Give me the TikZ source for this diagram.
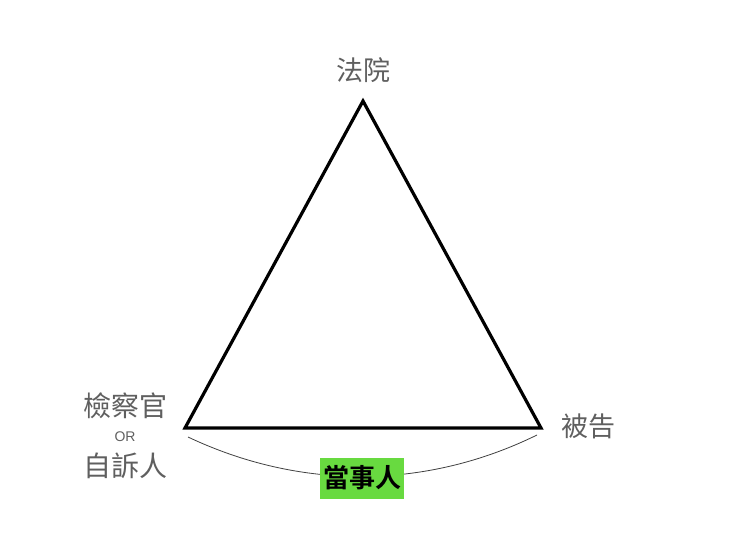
\documentclass[tikz,border=0pt]{standalone}
\usepackage{fontspec}
\setmainfont{Liberation Sans}
\newfontfamily\cjk{Noto Sans CJK TC}
\newfontfamily\cjkb{Noto Sans CJK TC Bold}
\definecolor{txtgray}{RGB}{95,95,95}
\definecolor{tagreen}{RGB}{104,218,64}
\begin{document}
\begin{tikzpicture}[x=1pt,y=-1pt,
  lbl/.style={text=txtgray,font=\cjk\fontsize{27}{30}\selectfont,inner sep=0pt},
  tri/.style={draw=black,line width=3.2pt,line join=miter},
  arcline/.style={draw=black!75,line width=0.8pt}]
\useasboundingbox (0,0) rectangle (740,555);
\coordinate (top) at (363,101);
\coordinate (bl) at (185,428);
\coordinate (br) at (541,428);
\draw[tri] (top) -- (bl) -- (br) -- cycle;
\node[lbl] (court) at (363,70) {法院};
\node[lbl,font=\cjk\fontsize{28}{30}\selectfont] (pros) at (125,406) {檢察官};
\node[text=txtgray,font=\fontsize{14}{16}\selectfont,inner sep=0pt] (or) at (125,437) {OR};
\node[lbl,font=\cjk\fontsize{28}{30}\selectfont] (priv) at (125,466) {自訴人};
\node[lbl] (def) at (588,426) {被告};
\coordinate (al) at (188,437);
\coordinate (ar) at (537,435);
\draw[arcline] (al) .. controls (300,490) and (425,490) .. (ar);
\node[fill=tagreen,minimum width=84pt,minimum height=41pt,inner sep=0pt,
  font=\cjkb\fontsize{26}{28}\selectfont,text=black] (party) at (362,478) {當事人};
\end{tikzpicture}
\end{document}
